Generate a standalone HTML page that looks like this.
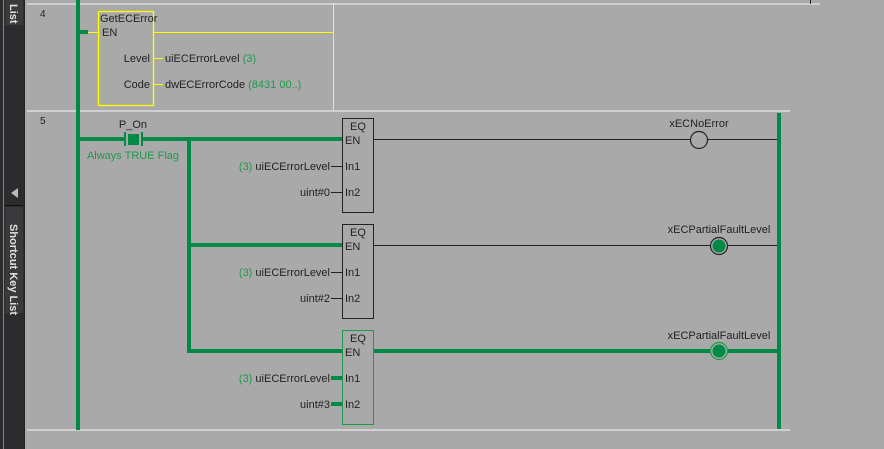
<!DOCTYPE html>
<html><head><meta charset="utf-8"><style>
html,body{margin:0;padding:0;width:884px;height:449px;overflow:hidden;background:#a9a9a9;}
svg{display:block;font-family:"Liberation Sans",sans-serif;}
</style></head><body>
<svg width="884" height="449" viewBox="0 0 884 449" xmlns="http://www.w3.org/2000/svg">
<rect x="0" y="0" width="884" height="449" fill="#a9a9a9"/>
<rect x="0" y="0" width="24" height="449" fill="#2c2c2e"/>
<rect x="3" y="0" width="1" height="449" fill="#5a8fc0"/>
<rect x="5" y="0" width="18" height="25" fill="#3a3a3c"/>
<text transform="translate(10,4) rotate(90)" font-size="11" fill="#e0e0e0" font-weight="600">List</text>
<polygon points="18,188 18,198 11,193" fill="#bbb"/>
<rect x="5" y="205" width="18" height="1" fill="#111"/>
<rect x="5" y="207" width="18" height="106" fill="#3a3a3c"/>
<text transform="translate(10,224) rotate(90)" font-size="11" fill="#e0e0e0" font-weight="600">Shortcut Key List</text>
<rect x="24" y="0" width="1" height="449" fill="#222"/>
<rect x="27" y="3" width="793" height="2" fill="#d0d0d0"/>
<rect x="810" y="0" width="1" height="4" fill="#222"/>
<rect x="27" y="110" width="763" height="2" fill="#d0d0d0"/>
<rect x="27" y="429" width="763" height="2" fill="#d0d0d0"/>
<text x="40" y="17" font-size="10" fill="#222">4</text>
<text x="40" y="124" font-size="10" fill="#222">5</text>
<rect x="76" y="0" width="4" height="430" fill="#008a45"/>
<rect x="80" y="30" width="8" height="4" fill="#008a45"/>
<line x1="88" y1="32.5" x2="98" y2="32.5" stroke="#ffff00" stroke-width="1"/>
<rect x="98.5" y="11.5" width="55" height="94" fill="none" stroke="#ffff00" stroke-width="1.3"/>
<line x1="153" y1="32.5" x2="333" y2="32.5" stroke="#ffff00"/>
<line x1="333.5" y1="4" x2="333.5" y2="110" stroke="#ffff00"/>
<text x="100" y="22" font-size="11" fill="#222">GetECError</text>
<text x="102" y="36" font-size="11" fill="#222">EN</text>
<text x="150" y="62" font-size="11" fill="#222" text-anchor="end">Level</text>
<text x="150" y="88" font-size="11" fill="#222" text-anchor="end">Code</text>
<line x1="154" y1="58.5" x2="163" y2="58.5" stroke="#ffff00"/>
<line x1="154" y1="84.5" x2="163" y2="84.5" stroke="#ffff00"/>
<text x="165" y="62" font-size="11" fill="#222">uiECErrorLevel <tspan fill="#1e9a4a">(3)</tspan></text>
<text x="165" y="88" font-size="11" fill="#222">dwECErrorCode <tspan fill="#1e9a4a">(8431 00..)</tspan></text>
<text x="133" y="128" font-size="11" fill="#222" text-anchor="middle">P_On</text>
<rect x="80" y="137" width="45" height="4" fill="#008a45"/>
<rect x="124" y="132" width="2" height="14" fill="#008a45"/>
<rect x="141" y="132" width="2" height="14" fill="#008a45"/>
<rect x="128" y="134" width="11" height="11" fill="#008a45"/>
<rect x="142" y="137" width="200" height="4" fill="#008a45"/>
<text x="133" y="159" font-size="11" fill="#1e9a4a" text-anchor="middle">Always TRUE Flag</text>
<rect x="187" y="139" width="4" height="214" fill="#008a45"/>
<rect x="189" y="243" width="153" height="4" fill="#008a45"/>
<rect x="189" y="349" width="153" height="4" fill="#008a45"/>
<rect x="342.5" y="118.5" width="31" height="94" fill="none" stroke="#222"/>
<text x="358" y="130" font-size="11" fill="#222" text-anchor="middle">EQ</text>
<text x="345" y="144" font-size="11" fill="#222">EN</text>
<text x="345" y="170" font-size="11" fill="#222">In1</text>
<text x="345" y="196" font-size="11" fill="#222">In2</text>
<line x1="331" y1="166.5" x2="342" y2="166.5" stroke="#222"/>
<line x1="331" y1="192.5" x2="342" y2="192.5" stroke="#222"/>
<text x="330" y="170" font-size="11" fill="#222" text-anchor="end"><tspan fill="#1e9a4a">(3)</tspan> uiECErrorLevel</text>
<text x="330" y="196" font-size="11" fill="#222" text-anchor="end">uint#0</text>
<line x1="374" y1="139.5" x2="691" y2="139.5" stroke="#222"/>
<line x1="707" y1="139.5" x2="778" y2="139.5" stroke="#222"/>
<circle cx="699" cy="140" r="8.5" fill="none" stroke="#222" stroke-width="1.2"/>
<text x="699" y="127" font-size="11" fill="#222" text-anchor="middle">xECNoError</text>
<rect x="342.5" y="224.5" width="31" height="94" fill="none" stroke="#222"/>
<text x="358" y="236" font-size="11" fill="#222" text-anchor="middle">EQ</text>
<text x="345" y="250" font-size="11" fill="#222">EN</text>
<text x="345" y="276" font-size="11" fill="#222">In1</text>
<text x="345" y="302" font-size="11" fill="#222">In2</text>
<line x1="331" y1="272.5" x2="342" y2="272.5" stroke="#222"/>
<line x1="331" y1="298.5" x2="342" y2="298.5" stroke="#222"/>
<text x="330" y="276" font-size="11" fill="#222" text-anchor="end"><tspan fill="#1e9a4a">(3)</tspan> uiECErrorLevel</text>
<text x="330" y="302" font-size="11" fill="#222" text-anchor="end">uint#2</text>
<line x1="374" y1="245.5" x2="710" y2="245.5" stroke="#222"/>
<line x1="727" y1="245.5" x2="778" y2="245.5" stroke="#222"/>
<circle cx="719" cy="246" r="8.5" fill="none" stroke="#222" stroke-width="1.2"/>
<circle cx="719" cy="246" r="6.5" fill="#008a45"/>
<text x="719" y="233" font-size="11" fill="#222" text-anchor="middle">xECPartialFaultLevel</text>
<rect x="342.5" y="330.5" width="31" height="94" fill="none" stroke="#1e9a4a"/>
<text x="358" y="342" font-size="11" fill="#222" text-anchor="middle">EQ</text>
<text x="345" y="356" font-size="11" fill="#222">EN</text>
<text x="345" y="382" font-size="11" fill="#222">In1</text>
<text x="345" y="408" font-size="11" fill="#222">In2</text>
<rect x="331" y="376" width="11" height="4" fill="#008a45"/>
<rect x="331" y="402" width="11" height="4" fill="#008a45"/>
<text x="330" y="382" font-size="11" fill="#222" text-anchor="end"><tspan fill="#1e9a4a">(3)</tspan> uiECErrorLevel</text>
<text x="330" y="408" font-size="11" fill="#222" text-anchor="end">uint#3</text>
<rect x="374" y="349" width="336" height="4" fill="#008a45"/>
<rect x="728" y="349" width="50" height="4" fill="#008a45"/>
<circle cx="719" cy="351" r="8.5" fill="none" stroke="#1e9a4a" stroke-width="1.2"/>
<circle cx="719" cy="351" r="6.5" fill="#008a45"/>
<text x="719" y="339" font-size="11" fill="#222" text-anchor="middle">xECPartialFaultLevel</text>
<rect x="777" y="113" width="4" height="316" fill="#008a45"/>
</svg>
</body></html>
